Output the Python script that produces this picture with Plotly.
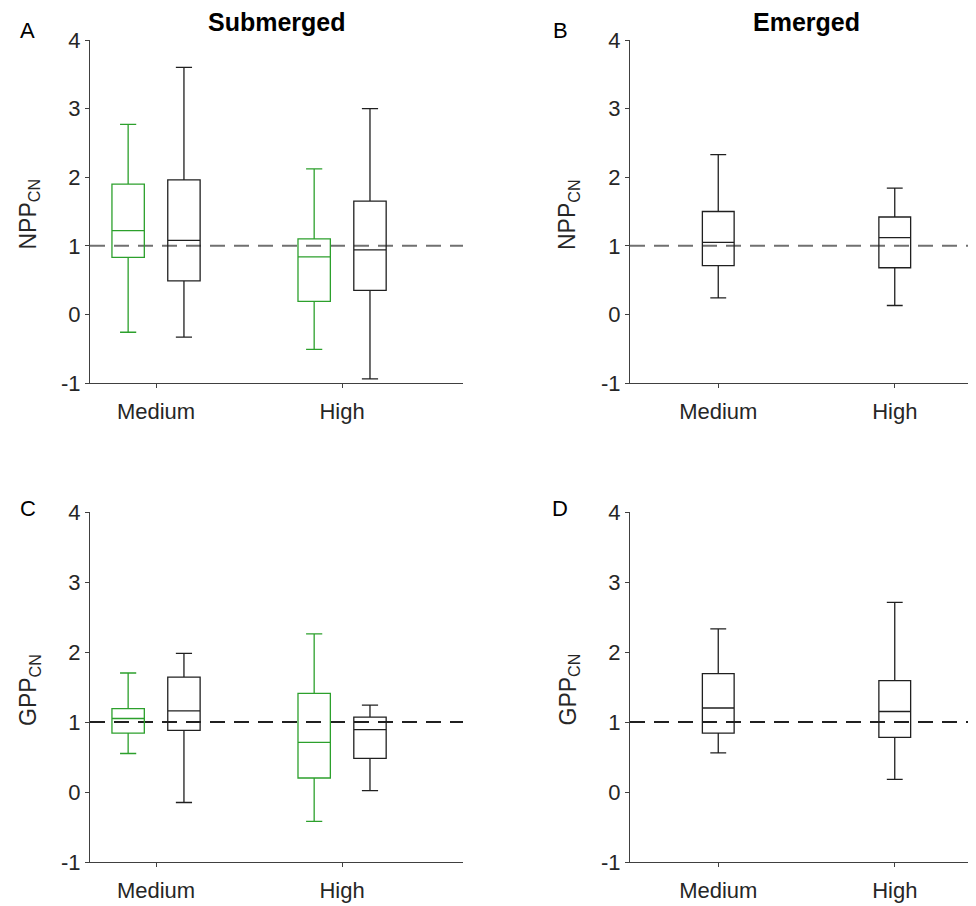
import plotly.graph_objects as go

categories = ["Medium", "High"]

# Panel A: NPP, submerged (green = first series, black = second series)
A_green_lo = [-0.26, -0.51]
A_green_q1 = [0.83, 0.19]
A_green_med = [1.22, 0.84]
A_green_q3 = [1.90, 1.10]
A_green_hi = [2.77, 2.12]

A_black_lo = [-0.33, -0.94]
A_black_q1 = [0.49, 0.35]
A_black_med = [1.08, 0.94]
A_black_q3 = [1.96, 1.65]
A_black_hi = [3.60, 3.00]

# Panel B: NPP, emerged
B_lo = [0.24, 0.13]
B_q1 = [0.71, 0.68]
B_med = [1.05, 1.12]
B_q3 = [1.50, 1.42]
B_hi = [2.33, 1.84]

# Panel C: GPP, submerged
C_green_lo = [0.55, -0.42]
C_green_q1 = [0.84, 0.20]
C_green_med = [1.05, 0.71]
C_green_q3 = [1.19, 1.41]
C_green_hi = [1.70, 2.26]

C_black_lo = [-0.15, 0.02]
C_black_q1 = [0.88, 0.48]
C_black_med = [1.16, 0.89]
C_black_q3 = [1.64, 1.07]
C_black_hi = [1.98, 1.24]

# Panel D: GPP, emerged
D_lo = [0.56, 0.18]
D_q1 = [0.84, 0.78]
D_med = [1.20, 1.15]
D_q3 = [1.69, 1.59]
D_hi = [2.33, 2.71]

y_tick_vals = [-1, 0, 1, 2, 3, 4]
y_tick_text = ["-1", "0", "1", "2", "3", "4"]
reference_value = 1

GREEN = "#2ca02c"
BLACK = "#202020"
AXIS = "#404040"
TEXT = "#262626"
FONT = "Liberation Sans, Arial, sans-serif"

W, H = 976, 906
OFF = 8  # page body margin

def px_x(a, b):
    return [(a - OFF) / W, min(1.0, (b - OFF) / W)]

def px_y(top, bottom):
    return [1 - (bottom - OFF) / H, 1 - (top - OFF) / H]

def pxx(v):
    return (v - OFF) / W

def pxy(v):
    return 1 - (v - OFF) / H

fig = go.Figure()

def add_box(name, xa, ya, lo, q1, med, q3, hi, color, group=None, width=None):
    kw = dict(
        x=categories, q1=q1, median=med, q3=q3, lowerfence=lo, upperfence=hi,
        name=name, xaxis=xa, yaxis=ya,
        line=dict(color=color, width=1.3), fillcolor="rgba(0,0,0,0)",
        whiskerwidth=0.5, boxpoints=False, showlegend=False, hoverinfo="y",
    )
    if group is not None:
        kw["offsetgroup"] = group
        kw["alignmentgroup"] = xa
    if width is not None:
        kw["width"] = width
    fig.add_trace(go.Box(**kw))

add_box("A green", "x", "y", A_green_lo, A_green_q1, A_green_med, A_green_q3, A_green_hi, GREEN, group="g")
add_box("A black", "x", "y", A_black_lo, A_black_q1, A_black_med, A_black_q3, A_black_hi, BLACK, group="k")
add_box("B", "x2", "y2", B_lo, B_q1, B_med, B_q3, B_hi, BLACK, width=0.18)
add_box("C green", "x3", "y3", C_green_lo, C_green_q1, C_green_med, C_green_q3, C_green_hi, GREEN, group="g")
add_box("C black", "x3", "y3", C_black_lo, C_black_q1, C_black_med, C_black_q3, C_black_hi, BLACK, group="k")
add_box("D", "x4", "y4", D_lo, D_q1, D_med, D_q3, D_hi, BLACK, width=0.18)

tickfont = dict(family=FONT, size=22, color=TEXT)
xcommon = dict(type="category", showline=True, linecolor=AXIS, linewidth=1.3,
               ticks="outside", ticklen=4, tickcolor=AXIS, tickwidth=1.2,
               ticklabelstandoff=4,
               showgrid=False, zeroline=False, automargin=False,
               tickfont=tickfont, fixedrange=True)
ycommon = dict(range=[-1, 4], tickvals=y_tick_vals, ticktext=y_tick_text,
               showline=True, linecolor=AXIS, linewidth=1.3,
               ticks="outside", ticklen=4, tickcolor=AXIS, tickwidth=1.2,
               showgrid=False, zeroline=False, automargin=False,
               tickfont=tickfont, fixedrange=True)

left_rng = [-0.355, 1.65]
right_rng = [-0.5, 1.5]

fig.update_layout(
    template="none",
    width=W, height=H,
    margin=dict(l=0, r=0, t=0, b=0, pad=0),
    paper_bgcolor="white", plot_bgcolor="white",
    showlegend=False,
    boxmode="group", boxgap=0.4, boxgroupgap=0.42,
    xaxis=dict(domain=px_x(90, 463), range=left_rng, anchor="y", **xcommon),
    yaxis=dict(domain=px_y(40, 383), anchor="x", **ycommon),
    xaxis2=dict(domain=px_x(630, 983), range=right_rng, anchor="y2", **xcommon),
    yaxis2=dict(domain=px_y(40, 383), anchor="x2", **ycommon),
    xaxis3=dict(domain=px_x(90, 463), range=left_rng, anchor="y3", **xcommon),
    yaxis3=dict(domain=px_y(512, 862), anchor="x3", **ycommon),
    xaxis4=dict(domain=px_x(630, 983), range=right_rng, anchor="y4", **xcommon),
    yaxis4=dict(domain=px_y(512, 862), anchor="x4", **ycommon),
)

# dashed reference lines at y = 1
for xr, yr, col, wd in [("x", "y", "#707070", 2), ("x2", "y2", "#707070", 2),
                        ("x3", "y3", "#202020", 1.8), ("x4", "y4", "#202020", 1.8)]:
    fig.add_shape(type="line", xref=f"{xr} domain", yref=yr, x0=0, x1=1,
                  y0=reference_value, y1=reference_value,
                  line=dict(color=col, width=wd, dash="15px,9px"), layer="below")

# y-axis titles
ytitle_font = dict(family=FONT, size=23, color=TEXT)
for txt, xp, yp in [("NPP<sub>CN</sub>", 28.5, 214), ("NPP<sub>CN</sub>", 569, 215),
                    ("GPP<sub>CN</sub>", 29, 690), ("GPP<sub>CN</sub>", 568.5, 690)]:
    fig.add_annotation(text=txt, x=pxx(xp), y=pxy(yp), xref="paper", yref="paper",
                       textangle=-90, xanchor="center", yanchor="middle",
                       showarrow=False, font=ytitle_font)

# column titles
title_font = dict(family=FONT, size=25, color="black")
for txt, xp in [("<b>Submerged</b>", 276.5), ("<b>Emerged</b>", 806.7)]:
    fig.add_annotation(text=txt, x=pxx(xp), y=pxy(22), xref="paper", yref="paper",
                       xanchor="center", yanchor="middle", showarrow=False, font=title_font)

# panel letters
letter_font = dict(family=FONT, size=22, color="black")
for letter, xp, yp in [("A", 27, 30), ("B", 560, 30), ("C", 27.5, 508), ("D", 560, 508)]:
    fig.add_annotation(text=letter, x=pxx(xp), y=pxy(yp), xref="paper", yref="paper",
                       xanchor="center", yanchor="middle", showarrow=False, font=letter_font)

fig.write_html("out.html")
